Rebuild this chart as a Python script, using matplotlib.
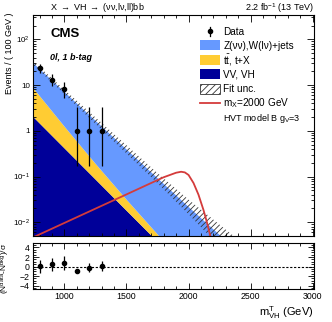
import numpy as np
import matplotlib
matplotlib.use('Agg')
import matplotlib.pyplot as plt
from matplotlib.patches import Rectangle
from matplotlib.lines import Line2D
from matplotlib.ticker import FixedLocator, MultipleLocator, LogLocator, NullFormatter, FixedFormatter

plt.rcParams['font.family'] = ['Liberation Sans', 'DejaVu Sans']
plt.rcParams['mathtext.fontset'] = 'custom'
plt.rcParams['mathtext.rm'] = 'Liberation Sans'
plt.rcParams['mathtext.it'] = 'Liberation Sans:italic'
plt.rcParams['mathtext.bf'] = 'Liberation Sans:bold'
plt.rcParams['hatch.linewidth'] = 0.6
plt.rcParams['hatch.color'] = '#333333'

# ---- background components (events / 100 GeV) ----
mass = [750, 1000, 1250, 1500, 1750, 2000, 2250, 2500]
vv = [2.0, 0.416, 0.0866, 0.0180, 0.00376, 0.00078, 0.000163, 0.0000339]
ttbar = [6.5, 0.823, 0.104, 0.0132, 0.00167, 0.000211, 0.0000267, 0.0000034]
zjets = [21.7, 5.86, 1.48, 0.362, 0.0869, 0.0207, 0.0051, 0.0012]
unc_up = [33.1, 7.96, 1.96, 0.483, 0.119, 0.0313, 0.00886, 0.00251]
unc_dn = [27.5, 6.32, 1.42, 0.319, 0.0716, 0.0150, 0.00293, 0.000574]

# ---- signal m_X = 2000 GeV ----
sig_mass = [750, 1000, 1250, 1500, 1700, 1800, 1850, 1900, 1940, 1970, 2000,
            2040, 2080, 2120, 2150, 2175, 2200, 2230]
sig = [0.00469, 0.00964, 0.0198, 0.0406, 0.0723, 0.0964, 0.108, 0.121, 0.127,
       0.123, 0.108, 0.072, 0.040, 0.0186, 0.0095, 0.0050, 0.0024, 0.001]

# ---- data ----
data_mass = [800, 900, 1000, 1100, 1200, 1300]
data = [23, 13, 8, 1, 1, 1]
data_err_lo = [4.8, 3.6, 2.8, 0.83, 0.83, 0.83]
data_err_hi = [5.9, 4.7, 3.9, 2.3, 2.3, 2.3]
pull = [0.07, 0.47, 0.75, -0.85, -0.2, 0.07]
pull_err = [1.35, 1.3, 1.4, 0.25, 0.9, 1.1]

legend_labels = ['Data', 'Z(νν),W(lν)+jets', r'$\mathrm{t\bar{t}}$, t+X', 'VV, VH', 'Fit unc.',
                 r'm$_{\rm X}$=2000 GeV']

c_blue = '#6699ff'
c_yellow = '#ffcc33'
c_navy = '#000099'
c_red = '#d43b3b'
c_hatch = '#333333'

W, H = 332, 322
fig = plt.figure(figsize=(W / 100, H / 100), dpi=100)
fx = lambda px: px / W
fy = lambda py: 1 - py / H
L, R = 33.3, 314
ax = fig.add_axes([fx(L), fy(236), (R - L) / W, (236 - 15) / H])
rax = fig.add_axes([fx(L), fy(289), (R - L) / W, (289 - 242.7) / H])

s1 = np.array(vv)
s2 = s1 + np.array(ttbar)
s3 = s2 + np.array(zjets)
ax.fill_between(mass, 1e-7, s1, color=c_navy, lw=0)
ax.fill_between(mass, s1, s2, color=c_yellow, lw=0)
ax.fill_between(mass, s2, s3, color=c_blue, lw=0)
ax.fill(np.concatenate([mass, mass[::-1]]), np.concatenate([unc_up, unc_dn[::-1]]),
        facecolor='none', edgecolor=c_hatch, hatch='//////', lw=0)
ax.plot(sig_mass, sig, color=c_red, lw=1.3)
ax.errorbar(data_mass, data, yerr=[data_err_lo, data_err_hi], fmt='o',
            color='black', ms=3, elinewidth=0.9, capsize=0, zorder=5)

ax.set_yscale('log')
ax.set_xlim(750, 3010)
ax.set_ylim(0.005, 340)
ax.xaxis.set_major_locator(MultipleLocator(500))
ax.xaxis.set_minor_locator(MultipleLocator(100))
ax.yaxis.set_major_locator(FixedLocator([0.01, 0.1, 1, 10, 100]))
ax.yaxis.set_major_formatter(FixedFormatter([r'$10^{-2}$', r'$10^{-1}$', '1', '10', r'$10^{2}$']))
ax.yaxis.set_minor_locator(LogLocator(base=10, subs=np.arange(2, 10)))
ax.yaxis.set_minor_formatter(NullFormatter())
ax.tick_params(which='both', direction='in', top=True, right=True, labelbottom=False,
               labelsize=5.8, width=0.6, pad=2.5)
ax.tick_params(which='major', length=5)
ax.tick_params(which='minor', length=2.5)
ax.set_ylabel('Events / ( 100 GeV )', fontsize=6.5, loc='top')
ax.yaxis.set_label_coords(-0.068, 1.01)

# ratio
rax.errorbar(data_mass, pull, yerr=pull_err, fmt='o', color='black', ms=3,
             elinewidth=0.9, capsize=0, zorder=5)
rax.axhline(0, color='black', lw=0.8, ls=(0, (2, 1.5)))
rax.set_xlim(750, 3010)
rax.set_ylim(-4.7, 5)
rax.xaxis.set_major_locator(MultipleLocator(500))
rax.xaxis.set_minor_locator(MultipleLocator(100))
rax.yaxis.set_major_locator(FixedLocator([-4, -2, 0, 2, 4]))
rax.yaxis.set_minor_locator(MultipleLocator(0.5))
rax.tick_params(which='both', direction='in', top=True, right=True, labelsize=6.3,
                width=0.6, pad=2.5)
rax.tick_params(which='major', length=4)
rax.tick_params(which='minor', length=2)
rax.set_ylabel(r'(N$^{\rm data}$-N$^{\rm bkg}$)/σ', fontsize=6)
rax.yaxis.set_label_coords(-0.075, 0.45)
rax.set_xlabel(r'm$^{\rm T}_{\rm VH}$ (GeV)', fontsize=8, loc='right')
rax.xaxis.set_label_coords(1.0, -0.32)

for a in (ax, rax):
    for sp in a.spines.values():
        sp.set_linewidth(0.8)

# texts
fig.text(fx(50), fy(8), r'X $\rightarrow$ VH $\rightarrow$ (νν,lν,ll)bb', fontsize=6.5,
         ha='left', va='center')
fig.text(fx(R), fy(8), r'2.2 fb$^{-1}$ (13 TeV)', fontsize=6.5, ha='right', va='center')
fig.text(fx(50), fy(34), 'CMS', fontsize=9.5, fontweight='bold', ha='left', va='center')
fig.text(fx(50), fy(57), '0l, 1 b-tag', fontsize=6.5, fontweight='bold', style='italic',
         ha='left', va='center')

# ---- manual legend ----
leg_fs = 7.2
row0, dy = 31.0, 14.4
hx0, hx1, tx = 200.0, 220.0, 223.3
rows = [row0 + i * dy for i in range(len(legend_labels))]
# Data
fig.add_artist(Line2D([fx(210), fx(210)], [fy(rows[0] - 4.5), fy(rows[0] + 4.5)],
                      color='black', lw=0.9, transform=fig.transFigure))
fig.add_artist(Line2D([fx(210)], [fy(rows[0])], marker='o', ms=3, color='black',
                      transform=fig.transFigure))
# filled boxes
for r, col in zip(rows[1:4], [c_blue, c_yellow, c_navy]):
    fig.add_artist(Rectangle((fx(hx0), fy(r + 5)), (hx1 - hx0) / W, 10 / H,
                             facecolor=col, lw=0, transform=fig.transFigure))
fig.add_artist(Rectangle((fx(hx0), fy(rows[4] + 5)), (hx1 - hx0) / W, 10 / H,
                         facecolor='white', edgecolor=c_hatch, hatch='/////', lw=0.6,
                         transform=fig.transFigure))
fig.add_artist(Line2D([fx(hx0), fx(hx1)], [fy(rows[5]), fy(rows[5])], color=c_red, lw=1.3,
                      transform=fig.transFigure))
for r, lab in zip(rows, legend_labels):
    fig.text(fx(tx), fy(r + 3.6), lab, fontsize=leg_fs, ha='left', va='baseline')
fig.text(fx(tx), fy(rows[-1] + 14.4 + 3.3), r'HVT model B g$_{\rm V}$=3', fontsize=6.5,
         ha='left', va='baseline')

fig.savefig('out.png', dpi=100)
